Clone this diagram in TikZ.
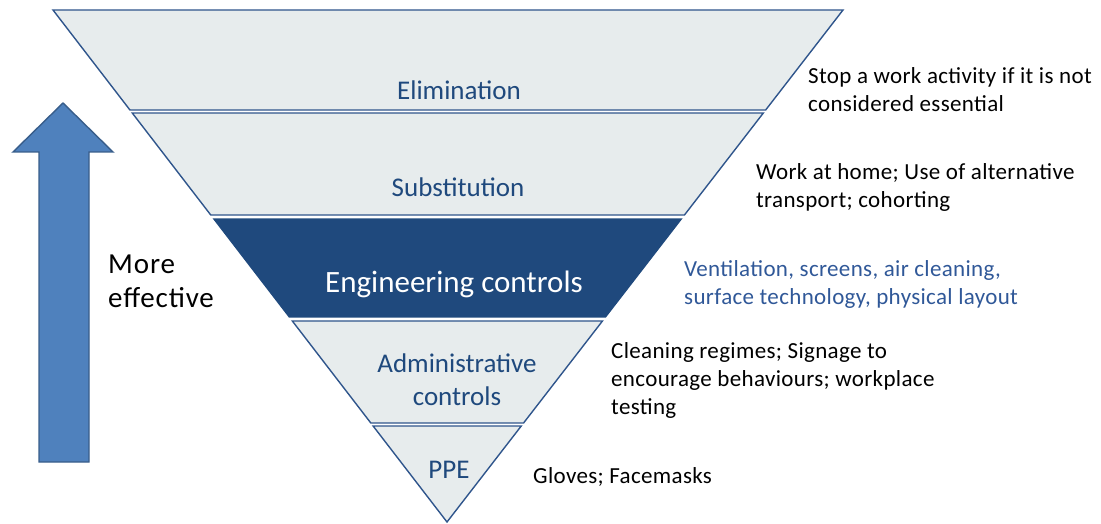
\documentclass[tikz,border=0pt]{standalone}
\usepackage{fontspec}
\setmainfont{Carlito}
\newfontfamily\notefont[LetterSpace=1.5]{Carlito}
\newfontfamily\efffont[LetterSpace=3]{Carlito}
\usetikzlibrary{calc}
\definecolor{bandfill}{RGB}{231,236,237}
\definecolor{bandline}{RGB}{47,85,140}
\definecolor{engfill}{RGB}{31,73,125}
\definecolor{labelblue}{RGB}{31,73,125}
\definecolor{noteblue}{RGB}{48,88,152}
\definecolor{arrowfill}{RGB}{79,129,189}
\definecolor{arrowline}{RGB}{56,93,138}
\begin{document}
\begin{tikzpicture}[x=1pt,y=-1pt,
  band/.style={fill=bandfill,draw=bandline,line width=1.4pt,line join=miter},
  engband/.style={fill=engfill,draw=engfill,line width=1.2pt},
  bandlabel/.style={text=labelblue,font=\fontsize{27}{33}\selectfont,align=center,inner sep=0pt},
  note/.style={text=black,font=\notefont\fontsize{23}{28}\selectfont,align=left,anchor=west,inner sep=0pt},
  bluenote/.style={note,text=noteblue}]
\useasboundingbox (0,0) rectangle (1101,524);
\coordinate (TL) at (53,10);
\coordinate (TR) at (843,10);
\coordinate (A) at (447,522);
% bands
\draw[band] ($(TL)!0!(A)$) -- ($(TR)!0!(A)$) -- ($(TR)!0.1953!(A)$) -- ($(TL)!0.1953!(A)$) -- cycle;
\draw[band] ($(TL)!0.2012!(A)$) -- ($(TR)!0.2012!(A)$) -- ($(TR)!0.4004!(A)$) -- ($(TL)!0.4004!(A)$) -- cycle;
\draw[engband] ($(TL)!0.4082!(A)$) -- ($(TR)!0.4082!(A)$) -- ($(TR)!0.5996!(A)$) -- ($(TL)!0.5996!(A)$) -- cycle;
\draw[band] ($(TL)!0.6074!(A)$) -- ($(TR)!0.6074!(A)$) -- ($(TR)!0.8066!(A)$) -- ($(TL)!0.8066!(A)$) -- cycle;
\draw[band] ($(TL)!0.8125!(A)$) -- ($(TR)!0.8125!(A)$) -- (A) -- cycle;
% band labels
\node[bandlabel] (elim) at (459,90) {Elimination};
\node[bandlabel] (subst) at (458,187) {Substitution};
\node[bandlabel,text=white,font=\fontsize{31}{36}\selectfont] (eng) at (454,284) {Engineering controls};
\node[bandlabel] (admin) at (457,380) {Administrative\\controls};
\node[bandlabel] (ppe) at (449,470) {PPE};
% arrow
\draw[fill=arrowfill,draw=arrowline,line width=1.4pt,line join=miter]
  (39,462) -- (39,152) -- (13,152) -- (63,103) -- (113,152) -- (89,152) -- (89,462) -- cycle;
\node[note,font=\efffont\fontsize{29}{34}\selectfont] (eff) at (108,281) {More\\effective};
% notes
\node[note] (n1) at (808,90) {Stop a work activity if it is not\\considered essential};
\node[note] (n2) at (756,187) {Work at home; Use of alternative\\transport; cohorting};
\node[bluenote] (n3) at (684,284) {Ventilation, screens, air cleaning,\\surface technology, physical layout};
\node[note] (n4) at (611,380) {Cleaning regimes; Signage to\\encourage behaviours; workplace\\testing};
\node[note] (n5) at (533,477) {Gloves; Facemasks};
\end{tikzpicture}
\end{document}
